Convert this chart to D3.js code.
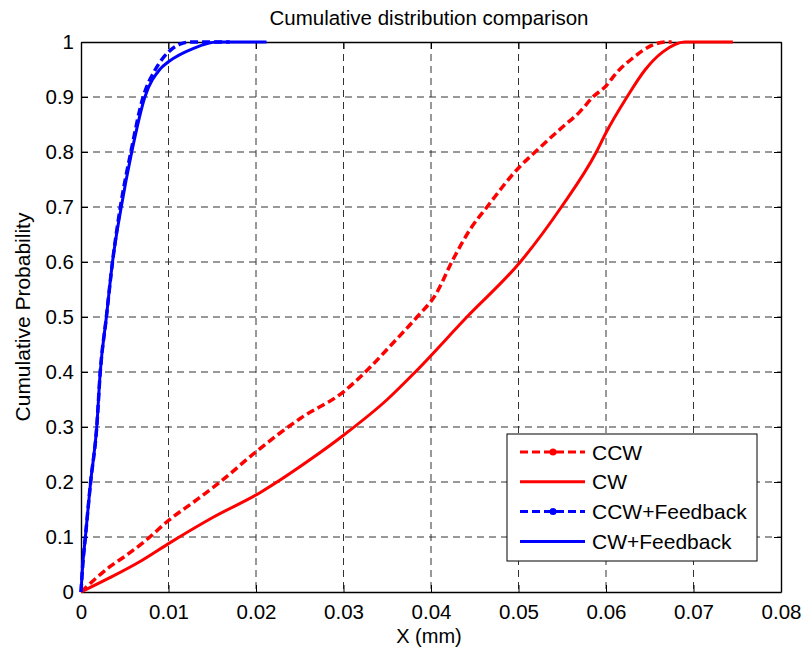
<!DOCTYPE html>
<html>
<head>
<meta charset="utf-8">
<script src="https://cdn.jsdelivr.net/npm/d3@7"></script>
<style>
  body { margin: 0; background: #fff; }
  text { font-family: "Liberation Sans", Arial, sans-serif; fill: #000; }
</style>
</head>
<body>
<script>
// CDF samples (x in mm, cumulative probability)
var ccw_x = [0, 0.0033, 0.0052, 0.0075, 0.01, 0.013, 0.0159, 0.02, 0.0251, 0.03, 0.0325, 0.0355, 0.0384, 0.0405, 0.0425, 0.0445, 0.0464, 0.05, 0.0519, 0.055, 0.057, 0.0585, 0.06, 0.0612, 0.063, 0.0654, 0.067, 0.0675]
var ccw_p = [0, 0.046, 0.067, 0.095, 0.130, 0.165, 0.200, 0.255, 0.316, 0.364, 0.400, 0.450, 0.500, 0.540, 0.604, 0.660, 0.700, 0.771, 0.800, 0.845, 0.873, 0.900, 0.920, 0.944, 0.970, 0.995, 1.0, 1.0]

var cw_x = [0, 0.0033, 0.0067, 0.01, 0.015, 0.0205, 0.0264, 0.03, 0.035, 0.0382, 0.0441, 0.0502, 0.0549, 0.0589, 0.06, 0.0624, 0.0645, 0.0665, 0.069, 0.0745]
var cw_p = [0, 0.026, 0.055, 0.088, 0.135, 0.181, 0.243, 0.285, 0.350, 0.400, 0.500, 0.600, 0.700, 0.800, 0.835, 0.900, 0.950, 0.982, 1.0, 1.0]

var ccwfb_x = [0, 0.0002, 0.0005, 0.0011, 0.0018, 0.0022, 0.0029, 0.0036, 0.0045, 0.0057, 0.0071, 0.0085, 0.01, 0.0113, 0.0125, 0.014, 0.017]
var ccwfb_p = [0, 0.05, 0.10, 0.20, 0.30, 0.40, 0.50, 0.60, 0.70, 0.80, 0.90, 0.95, 0.982, 0.996, 1.0, 1.0, 1.0]

var cwfb_x = [0, 0.0002, 0.0005, 0.0011, 0.0018, 0.0022, 0.0029, 0.0036, 0.0046, 0.0058, 0.0073, 0.009, 0.01, 0.0128, 0.0155, 0.0212]
var cwfb_p = [0, 0.05, 0.10, 0.20, 0.30, 0.40, 0.50, 0.60, 0.70, 0.80, 0.90, 0.95, 0.964, 0.988, 1.0, 1.0]

var x_ticks = [0, 0.01, 0.02, 0.03, 0.04, 0.05, 0.06, 0.07, 0.08]
var y_ticks = [0, 0.1, 0.2, 0.3, 0.4, 0.5, 0.6, 0.7, 0.8, 0.9, 1]
var series_names = ["CCW", "CW", "CCW+Feedback", "CW+Feedback"]
var series_colors = ["#ff0000", "#ff0000", "#0000ff", "#0000ff"]
var series_dashed = [true, false, true, false]

var W = 804, H = 649
var plot_l = 81, plot_r = 781, plot_t = 42, plot_b = 592

var svg = d3.select("body").append("svg")
	.attr("width", W)
	.attr("height", H)

var x = d3.scaleLinear().domain([0, 0.08]).range([plot_l, plot_r])
var y = d3.scaleLinear().domain([0, 1]).range([plot_b, plot_t])

// grid
svg.append("g").selectAll("line").data(x_ticks.slice(1, -1)).enter().append("line")
	.attr("x1", d => x(d)).attr("x2", d => x(d))
	.attr("y1", plot_t).attr("y2", plot_b)
	.attr("stroke", "#333").attr("stroke-width", 1).attr("stroke-dasharray", "7,5")
svg.append("g").selectAll("line").data(y_ticks.slice(1, -1)).enter().append("line")
	.attr("x1", plot_l).attr("x2", plot_r)
	.attr("y1", d => y(d)).attr("y2", d => y(d))
	.attr("stroke", "#333").attr("stroke-width", 1).attr("stroke-dasharray", "7,5")

// axes with inward ticks
var fmt = d => d === 0 ? "0" : String(+d.toFixed(2))
var xAxis = svg.append("g").attr("transform", "translate(0," + plot_b + ")")
	.call(d3.axisBottom(x).tickValues(x_ticks).tickSizeInner(-7).tickSizeOuter(0).tickPadding(12).tickFormat(fmt))
svg.append("g").attr("transform", "translate(0," + plot_t + ")")
	.call(d3.axisTop(x).tickValues(x_ticks).tickSizeInner(-7).tickSizeOuter(0).tickFormat(""))
var yAxis = svg.append("g").attr("transform", "translate(" + plot_l + ",0)")
	.call(d3.axisLeft(y).tickValues(y_ticks).tickSizeInner(-7).tickSizeOuter(0).tickPadding(7).tickFormat(fmt))
svg.append("g").attr("transform", "translate(" + plot_r + ",0)")
	.call(d3.axisRight(y).tickValues(y_ticks).tickSizeInner(-7).tickSizeOuter(0).tickFormat(""))

svg.selectAll(".domain").attr("stroke", "#000").attr("stroke-width", 1.4)
svg.selectAll(".tick line").attr("stroke", "#000")
svg.selectAll(".tick text").style("font-size", "20.5px").style("font-family", "Liberation Sans, Arial, sans-serif").attr("fill", "#000")
xAxis.selectAll(".tick text").attr("dy", "0.71em")

// curves
var all_x = [ccw_x, cw_x, ccwfb_x, cwfb_x]
var all_p = [ccw_p, cw_p, ccwfb_p, cwfb_p]
var line = d3.line().x(d => x(d[0])).y(d => y(d[1])).curve(d3.curveMonotoneX)

all_x.forEach(function(xs, i){
	var pts = xs.map((v, j) => [v, all_p[i][j]])
	svg.append("path")
		.datum(pts)
		.attr("d", line)
		.attr("fill", "none")
		.attr("stroke", series_colors[i])
		.attr("stroke-width", series_dashed[i] ? 3.5 : 3)
		.attr("stroke-dasharray", series_dashed[i] ? "8,4" : null)
		.attr("stroke-linejoin", "round")
})

// legend
var lg = svg.append("g")
lg.append("rect")
	.attr("x", 507).attr("y", 434).attr("width", 250).attr("height", 127)
	.attr("fill", "#fff").attr("stroke", "#000").attr("stroke-width", 1)
series_names.forEach(function(name, i){
	var ly = 452 + i * 29.8
	lg.append("line")
		.attr("x1", 520).attr("x2", 585).attr("y1", ly).attr("y2", ly)
		.attr("stroke", series_colors[i]).attr("stroke-width", 3)
		.attr("stroke-dasharray", series_dashed[i] ? "8,4" : null)
	if (series_dashed[i]) {
		lg.append("circle").attr("cx", 553).attr("cy", ly).attr("r", 3.5).attr("fill", series_colors[i])
	}
	lg.append("text").attr("x", 592).attr("y", ly).attr("dy", "0.36em")
		.style("font-size", "21px").text(name)
})

// title and labels
svg.append("text").attr("x", 429).attr("y", 25).attr("text-anchor", "middle")
	.style("font-size", "20.5px").text("Cumulative distribution comparison")
svg.append("text").attr("x", 429).attr("y", 643).attr("text-anchor", "middle")
	.style("font-size", "20px").text("X (mm)")
svg.append("text").attr("transform", "translate(30,317) rotate(-90)").attr("text-anchor", "middle")
	.style("font-size", "21px").text("Cumulative Probability")
</script>
</body>
</html>
